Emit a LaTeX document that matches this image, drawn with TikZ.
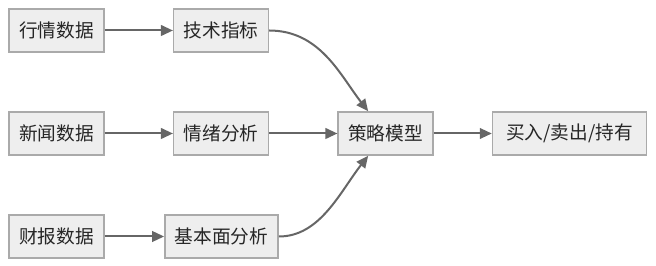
\documentclass[tikz,border=0pt]{standalone}
\usepackage{fontspec}
\setmainfont{Noto Sans CJK SC}
\usetikzlibrary{arrows.meta}
\definecolor{boxfill}{HTML}{EEEEEE}
\definecolor{boxline}{HTML}{AAAAAA}
\definecolor{linkgray}{HTML}{666666}
\tikzset{
  box/.style={draw=boxline, fill=boxfill, line width=1.1pt, minimum height=32.25pt,
    inner xsep=7.5pt, font=\fontsize{14pt}{16pt}\selectfont, text=black!85},
  link/.style={draw=linkgray, line width=1.5pt, -{Triangle[length=9pt,width=8pt]}}
}
\begin{document}
\begin{tikzpicture}[x=0.75pt,y=0.75pt,yscale=-1,xscale=1]
\useasboundingbox (0,0) rectangle (656,266);
%Nodes
\node [box] (hangqing) at (56.5,30.5) {行情数据};
\node [box] (jishu) at (221,30.5) {技术指标};
\node [box] (xinwen) at (56.5,133.5) {新闻数据};
\node [box] (qingxu) at (221,133.5) {情绪分析};
\node [box] (caibao) at (56.5,236.5) {财报数据};
\node [box] (jiben) at (221.5,236.5) {基本面分析};
\node [box] (celue) at (385.5,133.5) {策略模型};
\node [box, minimum width=115.5pt] (jueding) at (569.5,133.5) {买入/卖出/持有};
%Links
\draw [link] (hangqing) -- (jishu);
\draw [link] (xinwen) -- (qingxu);
\draw [link] (caibao) -- (jiben);
\draw [link] (qingxu) -- (celue);
\draw [link] (celue) -- (jueding);
\draw [link] (jishu.east) .. controls (320,30.5) and (340,75) .. ([xshift=-13pt]celue.north);
\draw [link] (jiben.east) .. controls (320,236.5) and (340,192) .. ([xshift=-13pt]celue.south);
\end{tikzpicture}
\end{document}
